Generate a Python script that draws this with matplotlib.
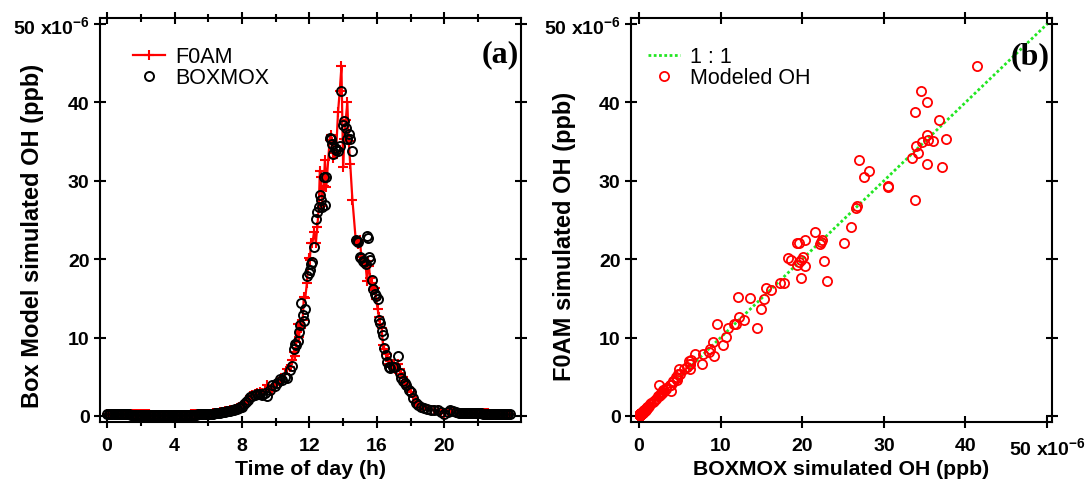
import matplotlib
matplotlib.use("Agg")
import matplotlib.pyplot as plt
from matplotlib.ticker import FixedLocator

plt.rcParams['font.family'] = ['Liberation Sans', 'DejaVu Sans']
plt.rcParams['font.weight'] = 'bold'
plt.rcParams['mathtext.fontset'] = 'custom'
plt.rcParams['mathtext.rm'] = 'Liberation Sans:bold'
plt.rcParams['mathtext.it'] = 'Liberation Sans:bold'
plt.rcParams['mathtext.bf'] = 'Liberation Sans:bold'
plt.rcParams['mathtext.default'] = 'bf'

# Time of day (h) and simulated OH (x1e-6 ppb) from the two box models
hours = [
    # night and early morning, 6-min output
    0.0, 0.1, 0.2, 0.3, 0.4, 0.5, 0.6, 0.7, 0.8, 0.9,
    1.0, 1.1, 1.2, 1.3, 1.4, 1.5, 1.6, 1.7, 1.8, 1.9,
    2.0, 2.1, 2.2, 2.3, 2.4, 2.5, 2.6, 2.7, 2.8, 2.9,
    3.0, 3.1, 3.2, 3.3, 3.4, 3.5, 3.6, 3.7, 3.8, 3.9,
    4.0, 4.1, 4.2, 4.3, 4.4, 4.5, 4.6, 4.7, 4.8, 4.9,
    5.0, 5.1, 5.2, 5.3, 5.4, 5.5, 5.6, 5.7, 5.8, 5.9,
    6.0, 6.1, 6.2, 6.3, 6.4, 6.5, 6.6, 6.7, 6.8, 6.9,
    7.0, 7.1, 7.2, 7.3, 7.4, 7.5, 7.6, 7.7, 7.8, 7.9,
    # daytime
    8.00, 8.12, 8.25, 8.38, 8.50, 8.62, 8.75, 8.90, 9.05, 9.20,
    9.35, 9.50, 9.65, 9.80, 9.95, 10.10, 10.25, 10.40, 10.55, 10.70,
    10.85, 10.97, 11.07, 11.15, 11.22, 11.30, 11.38, 11.46, 11.53, 11.60,
    11.67, 11.75, 11.85, 11.95, 12.02, 12.10, 12.18, 12.28, 12.38, 12.47,
    12.55, 12.62, 12.68, 12.75, 12.85, 12.92, 13.00, 13.20, 13.27, 13.33,
    13.42, 13.50, 13.60, 13.70, 13.80, 13.90, 14.00, 14.07, 14.15, 14.25,
    14.33, 14.42, 14.55, 14.75, 14.82, 14.90, 15.00, 15.08, 15.17, 15.25,
    15.33, 15.42, 15.47, 15.53, 15.60, 15.70, 15.78, 15.87, 15.95, 16.05,
    16.13, 16.20, 16.28, 16.37, 16.45, 16.55, 16.63, 16.70, 16.80, 16.95,
    17.10, 17.25, 17.35, 17.45, 17.55, 17.65, 17.75, 17.90, 18.00, 18.15,
    18.30, 18.45, 18.60, 18.80, 19.00, 19.20, 19.40, 19.60, 19.80, 20.00,
    20.20, 20.35, 20.50, 20.70, 20.85,
    # evening and night
    21.0, 21.1, 21.2, 21.3, 21.4, 21.5, 21.6, 21.7, 21.8, 21.9,
    22.0, 22.1, 22.2, 22.3, 22.4, 22.5, 22.6, 22.7, 22.8, 22.9,
    23.0, 23.1, 23.2, 23.3, 23.4, 23.5, 23.6, 23.7, 23.8, 23.9,
]

oh_boxmox = [
    0.22, 0.22, 0.21, 0.21, 0.21, 0.21, 0.20, 0.20, 0.20, 0.20,
    0.19, 0.19, 0.19, 0.19, 0.18, 0.18, 0.18, 0.18, 0.18, 0.18,
    0.17, 0.17, 0.17, 0.17, 0.17, 0.17, 0.16, 0.16, 0.16, 0.16,
    0.16, 0.16, 0.16, 0.16, 0.15, 0.15, 0.15, 0.15, 0.15, 0.15,
    0.15, 0.15, 0.15, 0.15, 0.15, 0.15, 0.16, 0.16, 0.16, 0.16,
    0.17, 0.17, 0.18, 0.18, 0.19, 0.19, 0.20, 0.20, 0.22, 0.23,
    0.25, 0.27, 0.29, 0.31, 0.34, 0.37, 0.40, 0.43, 0.46, 0.50,
    0.54, 0.58, 0.62, 0.67, 0.72, 0.78, 0.85, 0.93, 1.02, 1.10,
    1.2, 1.5, 1.8, 2.1, 2.4, 2.6, 2.7, 2.8, 2.8, 2.7,
    2.9, 2.5, 3.3, 3.9, 3.8, 4.2, 4.7, 4.6, 5.0, 4.9,
    5.9, 6.4, 8.6, 9.2, 9.1, 9.6, 10.7, 11.6, 14.4, 12.9,
    12.1, 13.6, 17.8, 18.3, 18.6, 19.4, 19.6, 21.6, 25.1, 26.0,
    26.6, 28.2, 27.6, 26.7, 30.5, 26.9, 30.5, 35.4, 35.3, 34.7,
    33.4, 34.2, 33.9, 33.8, 34.5, 41.4, 37.1, 37.6, 36.8, 35.3,
    36.0, 35.3, 33.8, 22.4, 22.3, 22.2, 20.3, 20.1, 19.8, 19.6,
    19.4, 23.0, 22.7, 20.3, 19.9, 17.3, 16.2, 15.6, 15.3, 14.9,
    12.2, 11.9, 10.9, 10.3, 8.7, 7.8, 6.9, 6.3, 6.1, 6.2,
    6.2, 7.7, 5.5, 4.8, 4.5, 4.2, 3.9, 3.3, 3.0, 2.3,
    1.7, 1.4, 1.1, 1.0, 0.9, 0.8, 0.75, 0.7, 0.5, 0.3,
    0.5, 0.7, 0.6, 0.45, 0.42,
    0.40, 0.39, 0.38, 0.37, 0.36, 0.36, 0.35, 0.34, 0.34, 0.33,
    0.33, 0.32, 0.32, 0.31, 0.31, 0.30, 0.30, 0.29, 0.29, 0.28,
    0.28, 0.27, 0.27, 0.26, 0.26, 0.25, 0.25, 0.24, 0.24, 0.23,
]

oh_f0am = [
    0.24, 0.24, 0.23, 0.23, 0.23, 0.23, 0.22, 0.22, 0.22, 0.22,
    0.21, 0.21, 0.21, 0.21, 0.20, 0.20, 0.20, 0.20, 0.20, 0.20,
    0.19, 0.19, 0.19, 0.19, 0.19, 0.19, 0.18, 0.18, 0.18, 0.18,
    0.18, 0.18, 0.18, 0.18, 0.17, 0.17, 0.17, 0.17, 0.17, 0.17,
    0.17, 0.17, 0.17, 0.17, 0.17, 0.17, 0.18, 0.18, 0.18, 0.18,
    0.19, 0.19, 0.20, 0.20, 0.21, 0.21, 0.22, 0.22, 0.24, 0.25,
    0.27, 0.29, 0.31, 0.33, 0.36, 0.39, 0.42, 0.45, 0.49, 0.53,
    0.57, 0.61, 0.65, 0.71, 0.76, 0.82, 0.90, 0.98, 1.08, 1.17,
    1.3, 1.6, 1.9, 2.2, 2.5, 2.7, 2.8, 2.9, 3.0, 2.9,
    3.3, 3.9, 3.5, 3.2, 4.0, 4.3, 4.6, 4.9, 5.3, 6.0,
    6.3, 7.1, 8.2, 7.7, 9.4, 11.7, 10.1, 11.7, 11.2, 12.2,
    15.2, 15.0, 16.9, 20.2, 19.9, 22.1, 22.1, 23.5, 22.1, 24.1,
    26.5, 31.2, 30.5, 26.8, 29.3, 32.7, 29.2, 35.2, 35.9, 35.0,
    32.9, 33.6, 34.5, 38.8, 41.5, 44.6, 31.8, 35.3, 37.7, 40.0,
    35.1, 32.2, 27.6, 22.4, 22.2, 22.0, 22.4, 20.3, 19.9, 19.6,
    19.3, 17.2, 19.8, 19.1, 17.6, 16.9, 16.1, 16.3, 14.9, 13.6,
    12.6, 11.7, 11.2, 9.0, 8.6, 7.9, 7.9, 6.6, 7.0, 6.6,
    6.0, 6.6, 6.0, 5.4, 5.0, 4.4, 3.9, 3.6, 3.1, 2.5,
    1.8, 1.5, 1.2, 1.0, 0.9, 0.8, 0.72, 0.7, 0.52, 0.32,
    0.48, 0.66, 0.58, 0.44, 0.43,
    0.42, 0.41, 0.40, 0.39, 0.38, 0.38, 0.37, 0.36, 0.36, 0.35,
    0.35, 0.34, 0.34, 0.33, 0.33, 0.32, 0.32, 0.31, 0.31, 0.30,
    0.30, 0.29, 0.29, 0.28, 0.28, 0.27, 0.27, 0.26, 0.26, 0.25,
]

one_to_one = [0, 50]
hour_ticks = [0, 4, 8, 12, 16, 20]
hour_minor = [2, 6, 10, 14, 18, 22]
oh_ticks = [0, 10, 20, 30, 40, 50]
oh_labels = ['0', '10', '20', '30', '40', r'50 x10$^{-6}$']

GREEN = '#22e622'
RED = '#ff0000'
FS = 14          # tick labels
FS_X = 15.3      # x-axis titles
FS_Y = 17        # y-axis titles
FS_LEG = 15.5    # legend entries

fig = plt.figure(figsize=(10.91, 4.85), dpi=100)
ax1 = fig.add_axes([100 / 1091, 62 / 485, 421 / 1091, 404 / 485])
ax2 = fig.add_axes([631 / 1091, 62 / 485, 421 / 1091, 404 / 485])


def style_axes(ax):
    for sp in ax.spines.values():
        sp.set_linewidth(1.5)
    ax.tick_params(which='both', direction='inout', top=True, right=True,
                   width=1.5, labelsize=FS)
    ax.tick_params(which='major', length=9)
    ax.tick_params(which='minor', length=6)
    ax.tick_params(axis='x', pad=6)
    ax.tick_params(axis='y', pad=3)
    ax.set_ylim(-0.77, 50.77)
    ax.set_yticks(oh_ticks)
    ax.set_yticklabels(oh_labels)


legend_kw = dict(loc='upper left', frameon=False, borderpad=0,
                 borderaxespad=0, handlelength=1.5, handletextpad=0.45,
                 labelspacing=0.0, prop={'weight': 'normal', 'size': FS_LEG})

# (a) diurnal cycle
style_axes(ax1)
ax1.plot(hours, oh_f0am, color=RED, lw=1.6, marker='+', ms=7, mew=1.5,
         label='F0AM', zorder=2)
ax1.plot(hours, oh_boxmox, ls='none', marker='o', ms=6.5, mfc='none',
         mec='black', mew=1.4, label='BOXMOX', zorder=3)
ax1.set_xlim(-0.42, 24.55)
ax1.set_xticks(hour_ticks)
ax1.xaxis.set_minor_locator(FixedLocator(hour_minor))
ax1.set_xlabel('Time of day (h)', fontsize=FS_X, fontweight='bold', va='center')
ax1.xaxis.set_label_coords(0.5, -0.116)
ax1.set_ylabel('Box Model simulated OH (ppb)', fontsize=FS_Y,
               fontweight='bold', va='center')
ax1.yaxis.set_label_coords(-0.1615, 0.463)
ax1.legend(bbox_to_anchor=(0.078, 0.930), **legend_kw)
ax1.text(0.995, 0.912, '(a)', transform=ax1.transAxes, ha='right', va='center',
         fontsize=23, fontweight='bold', family=['Liberation Serif'], zorder=5)

# (b) model-model scatter
style_axes(ax2)
ax2.plot(one_to_one, one_to_one, color=GREEN, lw=2.0, ls=(0, (1, 0.9)),
         label='1 : 1', zorder=2)
ax2.plot(oh_boxmox, oh_f0am, ls='none', marker='o', ms=6.6, mfc='none',
         mec=RED, mew=1.3, label='Modeled OH', zorder=3)
ax2.set_xlim(-0.98, 50.6)
ax2.set_xticks(oh_ticks)
ax2.set_xticklabels(oh_labels)
ax2.set_xlabel('BOXMOX simulated OH (ppb)', fontsize=FS_X, fontweight='bold',
               va='center')
ax2.xaxis.set_label_coords(0.5, -0.116)
ax2.set_ylabel('F0AM simulated OH (ppb)', fontsize=FS_Y, fontweight='bold',
               va='center')
ax2.yaxis.set_label_coords(-0.157, 0.463)
ax2.legend(bbox_to_anchor=(0.040, 0.930), **legend_kw)
ax2.text(0.995, 0.906, '(b)', transform=ax2.transAxes, ha='right', va='center',
         fontsize=23, fontweight='bold', family=['Liberation Serif'], zorder=5)

fig.savefig('out.png', dpi=100)
